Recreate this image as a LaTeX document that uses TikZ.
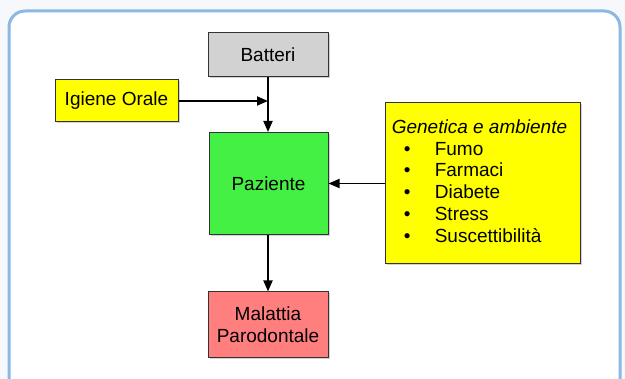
\documentclass[tikz,border=0pt]{standalone}
\usepackage{fontspec}
\setmainfont{Liberation Sans}
\usetikzlibrary{arrows.meta,shadows}
\definecolor{framebl}{HTML}{8CB8E4}
\definecolor{pagebg}{HTML}{F6F8FB}
\definecolor{grayfill}{HTML}{D2D2D2}
\definecolor{yel}{HTML}{FFFF00}
\definecolor{grn}{HTML}{44F044}
\definecolor{sal}{HTML}{FF7E7E}
\definecolor{edge}{HTML}{333333}
\tikzset{
  box/.style={draw=edge, line width=1pt, inner sep=0pt, align=center,
    font=\fontsize{19}{21.7}\selectfont,
    drop shadow={opacity=0.35, shadow xshift=1.5pt, shadow yshift=-1.5pt}},
  conn/.style={line width=1.8pt, -{Triangle[length=11pt,width=9pt]}},
}
\begin{document}
\begin{tikzpicture}[x=1pt,y=-1pt]
\useasboundingbox (0,0) rectangle (625,379);
\fill[pagebg] (0,0) rectangle (625,379);
\begin{scope}
\clip (0,0) rectangle (625,379);
\draw[framebl, line width=3pt, fill=white, rounded corners=16pt] (9,11) rectangle (620,420);
\end{scope}
\node[box, fill=grayfill, minimum width=120pt, minimum height=44pt] (bat) at (268,55) {Batteri};
\node[box, fill=yel, minimum width=123pt, minimum height=42pt] (ig) at (116.5,101) {Igiene Orale};
\node[box, fill=grn, minimum width=119pt, minimum height=102pt] (paz) at (268.5,183.5) {Paziente};
\node[box, fill=sal, minimum width=120pt, minimum height=66pt] (mal) at (268,325) {Malattia\\Parodontale};
\node[box, fill=yel, minimum width=195pt, minimum height=161pt] (gen) at (482.5,183.5)
  {\begin{tabular}{@{}l@{}}\textit{Genetica e ambiente}\\
   \hspace*{12pt}\makebox[31pt][l]{\textbullet}Fumo\\
   \hspace*{12pt}\makebox[31pt][l]{\textbullet}Farmaci\\
   \hspace*{12pt}\makebox[31pt][l]{\textbullet}Diabete\\
   \hspace*{12pt}\makebox[31pt][l]{\textbullet}Stress\\
   \hspace*{12pt}\makebox[31pt][l]{\textbullet}Suscettibilità\end{tabular}\hspace*{6pt}};
\coordinate (j) at (ig.east -| bat.south);
\draw[conn] (bat.south) -- (paz.north -| bat.south);
\draw[conn] (ig.east) -- (j);
\draw[conn] (gen.west) -- (paz.east);
\draw[conn] (paz.south -| mal.north) -- (mal.north);
\end{tikzpicture}
\end{document}
